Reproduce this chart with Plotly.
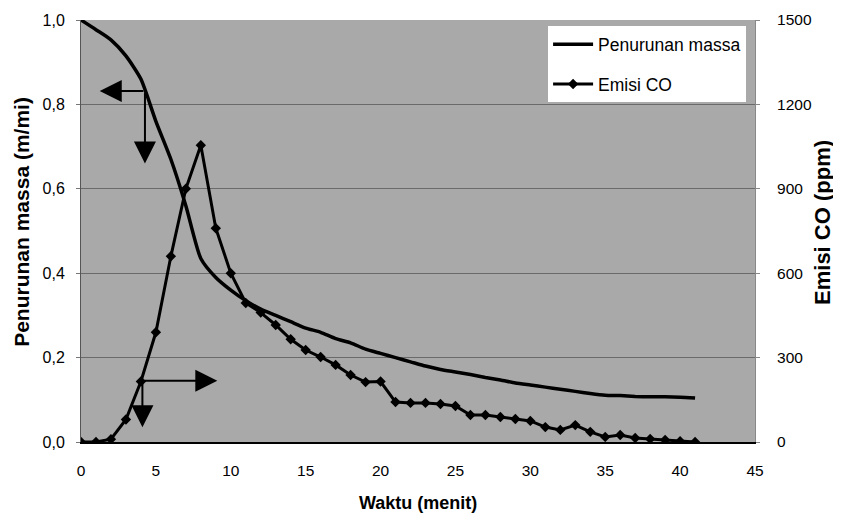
import plotly.graph_objects as go

# Data
waktu = list(range(0, 42))
massa = [1.0, 0.977, 0.953, 0.915, 0.86, 0.76, 0.67, 0.56, 0.435, 0.39,
         0.36, 0.335, 0.315, 0.30, 0.285, 0.27, 0.26, 0.245, 0.235, 0.22,
         0.21, 0.20, 0.19, 0.18, 0.172, 0.166, 0.16, 0.153, 0.147, 0.14,
         0.135, 0.13, 0.125, 0.12, 0.115, 0.111, 0.11, 0.108, 0.107, 0.107,
         0.106, 0.104]
emisi_co = [0, 0, 10, 80, 215, 390, 660, 900, 1055, 760,
            600, 494, 460, 416, 365, 327, 302, 274, 238, 213,
            215, 142, 139, 139, 135, 128, 96, 96, 89, 82,
            75, 53, 43, 60, 36, 18, 25, 14, 11, 7,
            3, 0]

left_ticks = [0, 0.2, 0.4, 0.6, 0.8, 1.0]
left_labels = ["0,0", "0,2", "0,4", "0,6", "0,8", "1,0"]
right_ticks = [0, 300, 600, 900, 1200, 1500]
x_ticks = list(range(0, 50, 5))

font_family = "Liberation Sans, Arial, sans-serif"

fig = go.Figure()
fig.add_trace(go.Scatter(
    x=waktu, y=massa, name="Penurunan massa", mode="lines",
    line=dict(color="black", width=3.5, shape="spline", smoothing=0.6),
    yaxis="y", legendgroup="a"))
fig.add_trace(go.Scatter(
    x=waktu, y=emisi_co, name="Emisi CO", mode="lines+markers",
    line=dict(color="black", width=3),
    marker=dict(symbol="diamond", size=8, color="black"), yaxis="y2",
    legendgroup="b"))

arrow_style = dict(showarrow=True, arrowhead=2, arrowsize=2.2, arrowwidth=2,
                   arrowcolor="black", text="", axref="x", ayref="y",
                   xref="x", yref="y")
# arrow pointing to left axis
fig.add_annotation(x=1.25, y=0.832, ax=4.27, ay=0.832, **arrow_style)
fig.add_annotation(x=4.27, y=0.66, ax=4.27, ay=0.832, **arrow_style)
# arrow pointing to right axis
fig.add_annotation(x=9.1, y=0.145, ax=4.1, ay=0.145, **arrow_style)
fig.add_annotation(x=4.1, y=0.035, ax=4.1, ay=0.145, **arrow_style)

# axis titles
fig.add_annotation(text="<b>Penurunan massa (m/mi)</b>", xref="paper", yref="paper",
                   x=-0.0895, y=0.521, textangle=-90, showarrow=False,
                   font=dict(size=21), xanchor="center", yanchor="middle")
fig.add_annotation(text="<b>Emisi CO (ppm)</b>", xref="paper", yref="paper",
                   x=1.1, y=0.52, textangle=-90, showarrow=False,
                   font=dict(size=22), xanchor="center", yanchor="middle")
fig.add_annotation(text="<b>Waktu (menit)</b>", xref="paper", yref="paper",
                   x=0.5, y=-0.1445, showarrow=False,
                   font=dict(size=18), xanchor="center", yanchor="middle")

fig.update_layout(
    width=833, height=507,
    margin=dict(l=73, r=86, t=12, b=73, autoexpand=False),
    paper_bgcolor="white",
    plot_bgcolor="#a9a9a9",
    font=dict(family=font_family, size=16, color="black"),
    showlegend=True,
    legend=dict(x=0.693, y=0.985, xanchor="left", yanchor="top",
                bgcolor="white", borderwidth=0,
                font=dict(size=17.5, family=font_family),
                itemwidth=40, tracegroupgap=14),
    xaxis=dict(range=[0, 45], tickvals=x_ticks, showgrid=False,
               showline=True, linecolor="black", linewidth=1.5,
               ticks="", zeroline=False, tickfont=dict(size=15.5),
               ticklabelstandoff=14, automargin=False),
    yaxis=dict(range=[0, 1.0], tickvals=left_ticks, ticktext=left_labels,
               showgrid=True, gridcolor="#6a6a6a", gridwidth=1,
               showline=True, linecolor="#555555", linewidth=1,
               ticks="outside", ticklen=4, tickcolor="#777777",
               ticklabelstandoff=8, tickfont=dict(size=16),
               zeroline=False, automargin=False),
    yaxis2=dict(range=[0, 1500], tickvals=right_ticks, overlaying="y",
                side="right", showgrid=False, zeroline=False,
                showline=True, linecolor="#888888", linewidth=1,
                ticks="outside", ticklen=4, tickcolor="#888888",
                ticklabelstandoff=14, tickfont=dict(size=15.5),
                automargin=False),
)

fig.write_html("out.html")
